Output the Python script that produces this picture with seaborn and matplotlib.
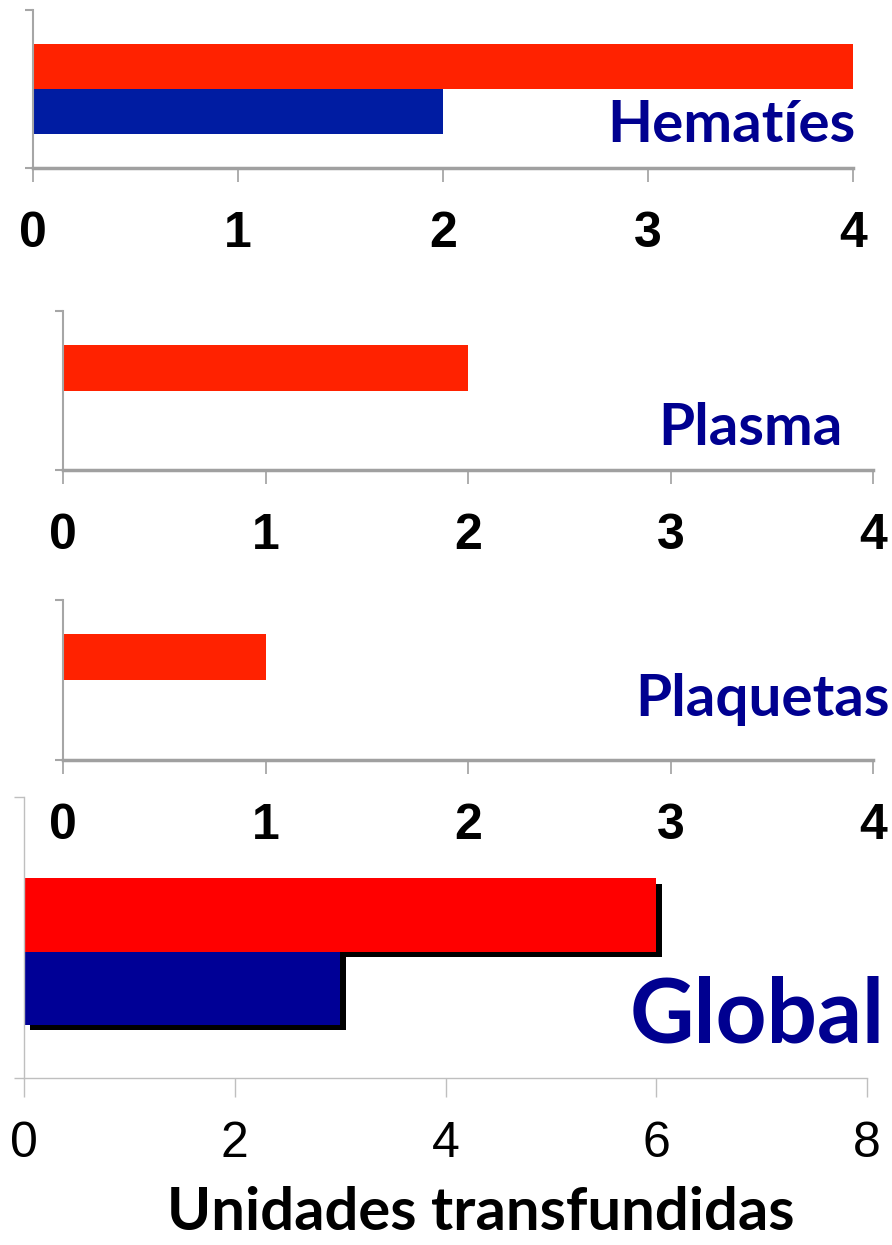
import pandas as pd
import seaborn as sns
import matplotlib.pyplot as plt
import matplotlib.patheffects as pe

# Datos
series = ['Grupo 1', 'Grupo 2']
hematies = [4, 2]
plasma = [2, 0]
plaquetas = [1, 0]
global_ = [6, 3]
ticks_panel = [0, 1, 2, 3, 4]
ticks_global = [0, 2, 4, 6, 8]

sns.set_theme(style='white')
plt.rcParams['font.family'] = ['Liberation Sans', 'DejaVu Sans']

W, H = 892, 1245
fig = plt.figure(figsize=(W / 100, H / 100), dpi=100)


def add_ax(left, top, right, bottom):
    ax = fig.add_axes([left / W, 1 - bottom / H, (right - left) / W, (bottom - top) / H])
    ax.patch.set_alpha(0)
    return ax


def panel(ax, valores, nombre, palette, width, ticks, label_pos):
    df = pd.DataFrame({'panel': [nombre] * len(series), 'serie': series, 'unidades': valores})
    sns.barplot(data=df, x='unidades', y='panel', hue='serie', palette=palette, saturation=1,
                orient='h', width=width, linewidth=0, legend=False, ax=ax)
    ax.set_xlim(ticks[0], ticks[-1])
    ax.set_xticks(ticks)
    ax.set_ylabel('')
    ax.set_xlabel('')
    for s in ['top', 'right']:
        ax.spines[s].set_visible(False)
    ax.text(label_pos[0], label_pos[1], nombre, transform=ax.transAxes, ha='right', va='center',
            fontsize=label_pos[2], fontweight='bold', color='#000090', family=['Lato', 'DejaVu Sans'])
    return ax


red1, blue1 = '#FF2200', '#001CA2'
for (l, t, r, b), vals, name, lp in [
    ((33, 10, 853, 168), hematies, 'Hematíes', (1.003, 0.27, 42)),
    ((63, 311, 873, 470), plasma, 'Plasma', (0.963, 0.26, 42)),
    ((63, 600, 873, 760), plaquetas, 'Plaquetas', (1.021, 0.375, 42)),
]:
    ax = add_ax(l, t, r, b)
    panel(ax, vals, name, [red1, blue1], 0.57, ticks_panel, lp)
    ax.set_ylim(0.5, -0.5)
    ax.set_yticks([-0.5, 0.5])
    ax.set_yticklabels(['', ''])
    ax.spines['left'].set_color('#A6A6A6')
    ax.spines['left'].set_linewidth(1.5)
    ax.spines['bottom'].set_color('#A0A0A0')
    ax.spines['bottom'].set_linewidth(2.5)
    ax.tick_params(axis='y', left=True, length=6, width=1.5, color='#A6A6A6')
    ax.tick_params(axis='x', bottom=True, length=10, width=1.2, color='#A0A0A0',
                   pad=21, labelsize=36, labelcolor='black')
    for lab in ax.get_xticklabels():
        lab.set_fontweight('bold')

# Panel global
ax4 = add_ax(24, 797, 867, 1078)
panel(ax4, global_, 'Global', ['#FF0000', '#000096'], 0.52, ticks_global, (1.021, 0.22, 64))
ax4.set_ylim(0.45, -0.55)
ax4.set_yticks([-0.55, 0.45])
ax4.set_yticklabels(['', ''])
for s in ['left', 'bottom']:
    ax4.spines[s].set_color('#BFBFBF')
    ax4.spines[s].set_linewidth(1)
ax4.tick_params(axis='y', left=True, length=7, width=1, color='#BFBFBF')
ax4.tick_params(axis='x', bottom=True, length=14, width=1, color='#BFBFBF', pad=17,
                labelsize=36, labelcolor='black')
for p in ax4.patches:
    p.set_path_effects([pe.SimplePatchShadow(offset=(4, -4), shadow_rgbFace='black', alpha=1),
                        pe.Normal()])
ax4.set_xlabel('Unidades transfundidas', fontsize=43, fontweight='bold', labelpad=14,
               family=['Lato', 'DejaVu Sans'], color='black')
ax4.xaxis.label.set_x(0.542)

fig.savefig('out.png', dpi=100)
